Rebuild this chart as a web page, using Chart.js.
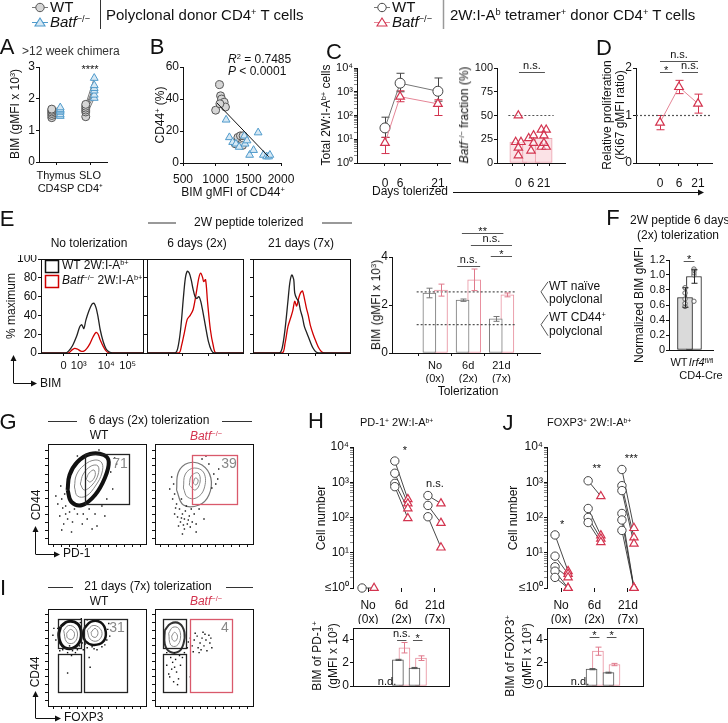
<!DOCTYPE html>
<html><head><meta charset="utf-8">
<script src="https://cdn.jsdelivr.net/npm/chart.js@4.4.1/dist/chart.umd.min.js"></script>
<style>
body{margin:0;width:728px;height:723px;position:relative;background:#fff;font-family:"Liberation Sans",Arial,sans-serif;color:#111;overflow:hidden}
canvas{position:absolute}
.t{position:absolute;white-space:nowrap}
sup{font-size:0.62em;position:relative;top:-0.5em;line-height:0;vertical-align:baseline}
</style></head><body>
<canvas id="deco" width="728" height="723" style="left:0;top:0"></canvas>
<script>
// ---------- data ----------
// A: BIM in polyclonal donor cells
const aThyWT = [1.40, 1.47, 1.53, 1.58, 1.63, 1.67];
const aThyKO = [1.45, 1.50, 1.58, 1.62, 1.66, 1.72];
const aSloWT = [1.43, 1.58, 1.64, 1.70, 1.76, 1.82];
const aSloKO = [2.02, 2.12, 2.25, 2.33, 2.42, 2.65];
const aCats = [['Thymus', 'CD4SP'], ['SLO', 'CD4⁺']];

// B: CD44+ vs BIM
const bWTx = [1000, 1060, 1075, 1090, 1110, 1130, 1150, 1065, 1300, 1340, 1380, 1420, 1410];
const bWTy = [33, 49, 42, 40, 37, 38, 35, 37, 12, 16, 17, 17, 11];
const bKOx = [1160, 1210, 1260, 1310, 1360, 1440, 1450, 1480, 1520, 1580, 1650, 1730, 1780, 1810, 1830];
const bKOy = [27, 16, 13, 12, 10, 17, 12, 14, 5, 8, 19, 5, 4, 4, 5];
const bFitX = [1020, 1810];
const bFitY = [37.5, 4];

// C: total 2W:I-Ab+ cells
const cDays = [0, 6, 21];
const cWT = [30, 2300, 1050];
const cWTlo = [12, 1000, 400];
const cWThi = [85, 6000, 3800];
const cKO = [7, 620, 310];
const cKOlo = [2.5, 380, 100];
const cKOhi = [12, 1100, 460];
// C: Batf-/- fraction
const fracMean = [22, 24, 26];
const frac0 = [50, 22, 22, 16, 8];
const frac0x = [1.0, 0.79, 1.21, 1.0, 1.0];
const frac6 = [26, 29, 21, 13];
const frac6x = [1.82, 2.2, 2.2, 2.0];
const frac21 = [35, 35, 29, 17, 17, 21];
const frac21x = [2.82, 3.2, 3.02, 2.82, 3.2, 3.02];

// D: relative proliferation
const dRatio = [0.85, 1.60, 1.25];
const dErr = [0.15, 0.14, 0.20];

// E: histograms (x = % of axis, y = % maximum)
const h1WT = [[0,0],[24,0],[27,2],[31,8],[35,18],[38,28],[40,30],[42,26],[44,35],[47,45],[50,52],[52,53],[54,48],[56,38],[58,25],[61,12],[64,4],[67,1],[70,0],[100,0]];
const h1KO = [[0,0],[27,0],[30,3],[33,5],[36,4],[39,2],[42,2],[45,5],[48,10],[51,17],[54,22],[56,20],[58,14],[61,7],[64,2],[67,0],[100,0]];
const h2WT = [[0,0],[29,0],[32,5],[35,25],[38,60],[40,80],[42,87],[44,85],[46,78],[48,68],[50,60],[52,58],[54,60],[56,55],[58,45],[61,28],[64,12],[67,3],[70,0],[100,0]];
const h2KO = [[0,0],[33,0],[36,8],[39,22],[42,36],[45,40],[48,46],[51,62],[54,80],[56,85],[58,80],[59,76],[61,78],[63,55],[66,25],[69,8],[72,0],[100,0]];
const h3WT = [[0,0],[27,0],[30,5],[33,25],[36,55],[38,75],[40,83],[42,78],[43,64],[45,58],[47,55],[49,45],[51,38],[53,28],[56,20],[59,12],[62,5],[65,1],[68,0],[100,0]];
const h3KO = [[0,0],[30,0],[33,10],[36,28],[39,38],[41,45],[43,55],[45,50],[47,58],[49,64],[51,66],[53,58],[55,48],[57,40],[59,30],[62,20],[65,12],[68,5],[71,1],[74,0],[100,0]];
const histAt = [22, 37, 64, 85];
const histLbl = ['0', '10³', '10⁴', '10⁵'];
// E: BIM bars
const tolLbl = [['No', '(0x)'], ['6d', '(2x)'], ['21d', '(7x)']];
const eWT = [2.50, 2.20, 1.42];
const eWTerr = [0.20, 0.05, 0.10];
const eKO = [2.62, 3.05, 2.42];
const eKOerr = [0.25, 0.45, 0.08];
const eNaive = 2.55;
const eCD44 = 1.18;

// F: normalized BIM
const fBars = [0.70, 0.98];
const fErr = [0.13, 0.09];
const fWTpts = [0.58, 0.62, 0.68, 0.76, 0.83];
const fIrfPts = [0.65, 1.00, 1.03, 1.06, 1.08];

// H: PD-1+ cell numbers and BIM
const hNoWT = [1], hNoKO = [1];
const h6WT = [4000, 1800, 930, 750], h6KO = [330, 250, 180, 95];
const h21WT = [420, 220, 105], h21KO = [250, 70, 14];
const hBimWT = [2.25, 1.55], hBimWTerr = [0.05, 0.05];
const hBimKO = [3.30, 2.40], hBimKOerr = [0.45, 0.20];
// J: FOXP3+ cell numbers and BIM
const jNoWT = [32, 8, 4, 3, 2], jNoKO = [3, 2.5, 2, 1, 1];
const j6WT = [1100, 180, 100, 72], j6KO = [400, 31, 25, 20];
const j21WT = [2300, 800, 580, 130, 85, 43], j21KO = [50, 27, 18, 1, 1, 1];
const jBimWT = [1.45, 1.15], jBimWTerr = [0.05, 0.04];
const jBimKO = [3.00, 1.85], jBimKOerr = [0.35, 0.10];

// G / I flow plots (x, y in % of axis)
const gWTout = [[20,54],[22,69],[30,82],[43,90],[57,89],[62,82],[58,66],[48,49],[35,39],[24,42],[20,54]];
const gWTr1 = [[27,57],[29,69],[37,79],[48,84],[55,81],[55,71],[49,59],[39,48],[30,48],[27,57]];
const gWTr2 = [[33,60],[36,70],[44,78],[51,78],[51,69],[45,59],[37,54],[33,60]];
const gWTr3 = [[39,65],[42,71],[47,74],[48,68],[43,62],[39,65]];
const gWTdots = [[15,36],[18,30],[12,28],[20,25],[16,20],[22,32],[10,40],[25,22],[30,30],[14,45],[35,20],[40,25],[45,15],[50,18],[8,48],[18,38],[27,35],[60,45],[66,55],[55,38],[64,72],[17,50],[13,58],[42,35],[36,30],[68,86],[70,80],[52,94],[30,88],[24,12],[14,14],[48,30],[58,28],[20,62],[25,75]];
const gKOout = [[22,54],[24,72],[34,81],[48,79],[57,66],[55,49],[45,39],[29,39],[22,54]];
const gKOr1 = [[29,56],[31,70],[40,76],[50,71],[50,55],[42,46],[33,47],[29,56]];
const gKOr2 = [[35,59],[37,68],[44,71],[46,62],[41,54],[35,59]];
const gKOr3 = [[39,61],[41,66],[44,64],[42,59],[39,61]];
const gKOdots = [[22,40],[25,35],[28,30],[30,25],[33,20],[26,22],[35,28],[38,22],[40,30],[20,30],[24,18],[30,15],[36,17],[42,20],[18,45],[45,35],[20,50],[27,45],[15,55],[60,70],[62,60],[48,85],[55,80],[65,75],[42,12],[28,10],[50,25],[23,27],[31,33],[27,26],[34,24],[29,19],[21,36],[37,35],[32,38],[19,60],[17,67],[58,56],[64,65],[52,88]];
const iWTlOut = [[13,82],[20,87],[30,85],[34,75],[31,64],[22,59],[14,63],[11,73],[13,82]];
const iWTlR1 = [[16,78],[21,83],[28,80],[30,72],[26,65],[19,66],[16,78]];
const iWTlR2 = [[19,75],[23,79],[27,75],[25,69],[20,70],[19,75]];
const iWTrOut = [[37,80],[44,87],[54,86],[59,76],[56,66],[46,63],[38,67],[36,74],[37,80]];
const iWTrR1 = [[40,78],[46,83],[53,80],[55,73],[50,67],[43,69],[40,78]];
const iWTrR2 = [[44,76],[48,80],[51,76],[49,71],[45,72],[44,76]];
const iWTdots = [[15,58],[20,55],[25,57],[28,60],[18,60],[32,62],[35,65],[8,68],[5,73],[33,86],[10,80],[36,58],[40,60],[45,61],[55,61],[60,68],[61,79],[40,89],[50,89],[63,72],[14,62],[22,62],[38,64],[50,58],[42,50],[28,55],[20,34],[43,40],[62,85],[34,90],[12,57],[30,58],[47,59],[58,63],[6,80],[24,52]];
const iKOout = [[10,78],[16,85],[25,85],[30,76],[29,64],[24,56],[15,56],[10,64],[10,78]];
const iKOr1 = [[14,75],[18,81],[24,80],[26,70],[22,62],[16,63],[14,75]];
const iKOr2 = [[17,72],[20,76],[23,72],[21,67],[18,68],[17,72]];
const iKOdots = [[40,68],[43,72],[46,65],[48,70],[50,62],[52,68],[55,73],[44,60],[38,62],[47,58],[53,57],[56,65],[36,70],[41,75],[49,76],[58,60],[34,66],[45,55],[39,56],[51,74],[57,70],[16,50],[18,45],[20,40],[22,35],[15,30],[19,25],[24,28],[17,38],[21,48],[12,42],[26,42],[14,33],[23,22],[28,50],[30,55],[33,60],[12,55],[20,55],[25,52],[36,30]];
const gWTgate = [38, 40, 82.5, 90], gKOgate = [37.5, 40, 83.3, 89];
const iGateL1 = [10.3, 59.8, 34, 89.7], iGateL2 = [10.3, 14.4, 34, 53.6], iGateR = [37.1, 14.4, 80.4, 89.7];
const iKOgL1 = [8.3, 59.8, 31.3, 89.7], iKOgL2 = [8.3, 14.4, 31.3, 53.6], iKOgR = [35.4, 14.4, 78.1, 89.7];

// ---------- helpers ----------
const FF = '"Liberation Sans", Arial, sans-serif';
Chart.defaults.font.family = FF;
Chart.defaults.font.size = 11;
Chart.defaults.color = '#111';
const RED = '#d3344f', REDL = '#e58596', BLUE = '#4f9acb', GR = '#444';
const LOGV = [1, 10, 100, 1000, 10000];
const minorLog = [];
for (let d = 1; d < 10000; d *= 10) for (let k = 1; k < 10; k++) minorLog.push(d * k);
minorLog.push(10000);
const sup = {1: '10⁰', 10: '10¹', 100: '10²', 1000: '10³', 10000: '10⁴'};

function drawErr(ch, after) {
  const ctx = ch.ctx, X = ch.scales.x, Y = ch.scales.y;
  ch.data.datasets.forEach(ds => {
    if (!ds.err || (ds.type === 'bar') !== after) return;
    ctx.save();
    ctx.strokeStyle = ds.errColor || ds.borderColor;
    ctx.lineWidth = 1;
    ds.data.forEach((p, j) => {
      const e = ds.err[j];
      const lo = Array.isArray(e) ? e[0] : p.y - e, hi = Array.isArray(e) ? e[1] : p.y + e;
      const px = Math.round(X.getPixelForValue(p.x)) + 0.5;
      const y0 = Y.getPixelForValue(lo), y1 = Y.getPixelForValue(hi), w = ds.capW || 3;
      ctx.beginPath();
      ctx.moveTo(px, y0); ctx.lineTo(px, y1);
      ctx.moveTo(px - w, y0); ctx.lineTo(px + w, y0);
      ctx.moveTo(px - w, y1); ctx.lineTo(px + w, y1);
      ctx.stroke();
    });
    ctx.restore();
  });
}

Chart.register({
  id: 'extras',
  beforeDatasetsDraw(ch) { drawErr(ch, false); },
  afterDatasetsDraw(ch) {
    drawErr(ch, true);
    const ex = ch.canvas._x || {}, ctx = ch.ctx, X = ch.scales.x, Y = ch.scales.y, ca = ch.chartArea;
    ctx.save();
    (ex.rects || []).forEach(r => {
      const x0 = Math.round(X.getPixelForValue(r[0])), y0 = Math.round(Y.getPixelForValue(r[1]));
      const x1 = Math.round(X.getPixelForValue(r[2])), y1 = Math.round(Y.getPixelForValue(r[3]));
      ctx.strokeStyle = r[4] || '#222'; ctx.lineWidth = 1.3;
      ctx.strokeRect(x0 + 0.5, y1 + 0.5, x1 - x0, y0 - y1);
    });
    if (ex.frame) {
      ctx.strokeStyle = '#111'; ctx.lineWidth = 1;
      ctx.strokeRect(Math.round(ca.left) + 0.5, Math.round(ca.top) + 0.5, Math.round(ca.right - ca.left), Math.round(ca.bottom - ca.top));
    }
    (ex.sig || []).forEach(([a, b, v, txt]) => {
      const y = Math.round(Y.getPixelForValue(v)) + 0.5;
      ctx.fillStyle = '#111'; ctx.strokeStyle = '#555'; ctx.lineWidth = 1;
      ctx.font = '11px ' + FF; ctx.textAlign = 'center';
      if (a === b) { ctx.textBaseline = 'middle'; ctx.fillText(txt, X.getPixelForValue(a), y); return; }
      const x0 = X.getPixelForValue(a), x1 = X.getPixelForValue(b);
      ctx.beginPath(); ctx.moveTo(x0, y); ctx.lineTo(x1, y); ctx.stroke();
      ctx.textBaseline = 'bottom';
      ctx.fillText(txt, (x0 + x1) / 2, txt[0] === '*' ? y + 4 : y - 1);
    });
    if (ex.draw) ex.draw(ctx, ch);
    ctx.restore();
  }
});

function ax(o) {
  const at = o.at || [o.min];
  return {
    type: o.type || 'linear', min: o.min, max: o.max,
    border: {display: o.line !== false, color: '#111', width: 1},
    grid: {display: true, drawOnChartArea: false, drawTicks: o.tl !== 0, tickLength: o.tl || 3, color: '#111', tickWidth: o.tw || 1},
    ticks: {display: !!(o.lbl || o.cb), autoSkip: false, maxRotation: 0, minRotation: 0,
      padding: o.pad == null ? 2 : o.pad, font: {size: o.fs || 11, family: FF}, color: '#111',
      callback: o.cb || ((v, i) => (o.lbl ? o.lbl[i] : ''))},
    afterBuildTicks: s => { s.ticks = at.map(v => ({value: v})); }
  };
}

function mk(r, p, datasets, x, y, ex) {
  const [L, Tp, R, B] = p;
  const c = document.createElement('canvas');
  c.width = r[2] - r[0] + L + R; c.height = r[3] - r[1] + Tp + B;
  c.style.left = (r[0] - L) + 'px'; c.style.top = (r[1] - Tp) + 'px';
  c._x = ex || {};
  document.body.appendChild(c);
  x.afterFit = s => { s.height = B; s.paddingLeft = 0; s.paddingRight = 0; };
  y.afterFit = s => { s.width = L; s.paddingTop = 0; s.paddingBottom = 0; };
  datasets.forEach(d => { if (d.clip === undefined) d.clip = false; });
  return new Chart(c, {type: 'scatter', data: {datasets}, options: {
    responsive: false, animation: false, events: [],
    layout: {autoPadding: false, padding: {left: 0, top: Tp, right: R, bottom: 0}},
    plugins: {legend: {display: false}, tooltip: {enabled: false}},
    scales: {x, y}}});
}

const xy = (xs, ys) => xs.map((x, i) => ({x, y: ys[i]}));
const stWTa = {pointStyle: 'circle', pointRadius: 4, backgroundColor: '#d6d6d6', borderColor: '#555', pointBorderWidth: 1};
const stKOa = {pointStyle: 'triangle', pointRadius: 4.5, backgroundColor: '#d6e8f4', borderColor: BLUE, pointBorderWidth: 1};
const stWT = {pointStyle: 'circle', pointRadius: 4.2, backgroundColor: '#fff', borderColor: GR, pointBorderWidth: 1};
const stKO = {pointStyle: 'triangle', pointRadius: 4.8, backgroundColor: '#fff', borderColor: RED, pointBorderWidth: 1.2};

function paired(groups, sa, sb, lineCol) {
  const ds = [], wt = [], ko = [];
  groups.forEach(([xa, xb, A, Bv]) => {
    A.forEach((v, i) => {
      wt.push({x: xa, y: v}); ko.push({x: xb, y: Bv[i]});
      ds.push({type: 'line', data: [{x: xa, y: v}, {x: xb, y: Bv[i]}], borderColor: lineCol, borderWidth: 0.9, pointRadius: 0, order: 5});
    });
  });
  ds.push(Object.assign({type: 'scatter', data: wt, order: 1}, sa));
  ds.push(Object.assign({type: 'scatter', data: ko, order: 0}, sb));
  return ds;
}
const hline = (x0, x1, v, col) => ({type: 'line', data: [{x: x0, y: v}, {x: x1, y: v}], borderColor: col || '#555', borderWidth: 1.2, borderDash: [2, 2], pointRadius: 0, order: 8});
const bar = (pts, border, bg, w, err) => ({type: 'bar', data: pts, borderColor: border, backgroundColor: bg, borderWidth: 1, barThickness: w, grouped: false, borderSkipped: false, err, capW: 3, order: 10});

// ---------- A ----------
mk([39, 67, 107, 162], [24, 8, 4, 36],
  paired([[0.75, 1.25, aThyWT, aThyKO], [2.75, 3.25, aSloWT, aSloKO]], stWTa, stKOa, '#666'),
  ax({min: 0, max: 4, at: [1, 3], lbl: aCats, pad: 4, fs: 11}),
  ax({min: 0, max: 3, at: [0, 1, 2, 3], lbl: ['0', '1', '2', '3'], pad: 1, fs: 12}),
  {sig: [[3, 3, 2.94, '****']]});

// ---------- B ----------
mk([183, 67, 281, 163], [26, 10, 14, 26], [
  Object.assign({type: 'scatter', data: xy(bKOx, bKOy), order: 1}, stKOa),
  Object.assign({type: 'scatter', data: xy(bWTx, bWTy), order: 2}, stWTa),
  {type: 'line', data: xy(bFitX, bFitY), borderColor: '#111', borderWidth: 1, pointRadius: 0, order: 0}],
  ax({min: 500, max: 2000, at: [500, 1000, 1500, 2000], lbl: ['500', '1000', '1500', '2000'], pad: 6, fs: 12}),
  ax({min: 0, max: 60, at: [0, 20, 40, 60], lbl: ['0', '20', '40', '60'], pad: 1, fs: 12}));

// ---------- C left ----------
mk([357, 68, 450, 163], [30, 10, 6, 26], [
  Object.assign({type: 'line', data: xy(cDays, cWT), borderColor: '#777', borderWidth: 1, pointStyle: 'circle', pointRadius: 5,
    pointBorderColor: GR, pointBackgroundColor: '#fff', pointBorderWidth: 1, err: cWTlo.map((v, i) => [v, cWThi[i]]), errColor: GR, capW: 4, order: 1}),
  Object.assign({type: 'line', data: xy(cDays, cKO), borderColor: REDL, borderWidth: 1, pointStyle: 'triangle', pointRadius: 5,
    pointBorderColor: RED, pointBackgroundColor: '#fff', pointBorderWidth: 1.2, err: cKOlo.map((v, i) => [v, cKOhi[i]]), errColor: RED, capW: 4, order: 0})],
  ax({min: -11.1, max: 25.8, at: cDays, lbl: ['0', '6', '21'], pad: 10, fs: 12}),
  ax({type: 'logarithmic', min: 1, max: 10000, at: minorLog, cb: v => sup[v] || '', pad: 1, fs: 11,
    tw: c => (c.tick && LOGV.includes(c.tick.value)) ? 1 : 0.5}));

// ---------- C right ----------
mk([497, 68, 565, 163], [26, 16, 4, 26], [
  Object.assign({type: 'scatter', data: xy(frac0x.concat(frac6x, frac21x), frac0.concat(frac6, frac21)), order: 0}, stKO, {backgroundColor: 'rgba(255,255,255,0.5)'}),
  bar(xy([1, 2, 3], fracMean), '#eba0ad', '#fbe2e6', 17),
  hline(0.21, 3.79, 50)],
  ax({min: 0.21, max: 3.79, at: [1, 2, 3], lbl: ['0', '6', '21'], pad: 10, fs: 12}),
  ax({min: 0, max: 100, at: [0, 25, 50, 75, 100], lbl: ['0', '25', '50', '75', '100'], pad: 1, fs: 11}),
  {sig: [[1.05, 3.1, 96, 'n.s.']]});

// ---------- D ----------
mk([636, 68, 712, 163], [18, 22, 8, 26], [
  {type: 'line', data: xy([1, 2, 3], dRatio), borderColor: REDL, borderWidth: 1, pointStyle: 'triangle', pointRadius: 5,
    pointBorderColor: RED, pointBackgroundColor: '#fff', pointBorderWidth: 1.2, err: dErr, errColor: RED, capW: 4, order: 0},
  hline(-0.263, 3.737, 1)],
  ax({min: -0.263, max: 3.737, at: [1, 2, 3], lbl: ['0', '6', '21'], pad: 10, fs: 12}),
  ax({min: 0, max: 2, at: [0, 1, 2], lbl: ['0', '1', '2'], pad: 1, fs: 12}),
  {sig: [[1, 3, 2.15, 'n.s.'], [1, 1.65, 1.92, '*'], [2.15, 3, 1.92, 'n.s.']]});

// ---------- E histograms ----------
function hist(r, L, wt, ko, first) {
  const pts = a => a.map(([x, y]) => ({x, y}));
  mk(r, [L, 4, 3, 18], [
    {type: 'line', data: pts(ko), borderColor: '#d00000', borderWidth: 1.3, pointRadius: 0, tension: 0.3, order: 1},
    {type: 'line', data: pts(wt), borderColor: '#222', borderWidth: 1.3, pointRadius: 0, tension: 0.3, order: 0}],
    ax({min: 0, max: 100, at: histAt, lbl: first ? histLbl : null, pad: 3, fs: 11}),
    ax({min: 0, max: 100, at: [0, 20, 40, 60, 80, 100], lbl: first ? ['0', '20', '40', '60', '80', '100'] : null, pad: 1, fs: 12}),
    {frame: true});
}
hist([41, 259, 143, 353], 26, h1WT, h1KO, true);
hist([147, 259, 243, 353], 4, h2WT, h2KO, false);
hist([253, 259, 350, 353], 4, h3WT, h3KO, false);

// ---------- E bars ----------
mk([392, 257, 540, 353], [16, 36, 10, 30], [
  bar(xy([0.83, 1.83, 2.83], eWT), '#777', '#fff', 13, eWTerr),
  Object.assign(bar(xy([1.18, 2.18, 3.18], eKO), '#e8909f', '#fff', 13, eKOerr), {errColor: '#e07a8c'}),
  hline(0.447, 3.42, eNaive), hline(0.447, 3.42, eCD44)],
  ax({min: 0.447, max: 3.42, at: [1, 2, 3], lbl: tolLbl, pad: 3, fs: 11}),
  ax({min: 0, max: 4, at: [0, 2, 4], lbl: ['0', '2', '4'], pad: 1, fs: 12}),
  {sig: [[1.81, 3.06, 5.0, '**'], [2.08, 3.32, 4.5, 'n.s.'], [2.68, 3.32, 4.04, '*'], [1.67, 2.36, 3.62, 'n.s.']],
   draw: (ctx, ch) => {
     const xr = ch.chartArea.right;
     ctx.strokeStyle = '#555'; ctx.lineWidth = 1;
     [eNaive, eCD44].forEach(v => {
       const y = ch.scales.y.getPixelForValue(v);
       ctx.beginPath(); ctx.moveTo(xr + 8, y - 10); ctx.lineTo(xr + 1, y); ctx.lineTo(xr + 8, y + 11); ctx.stroke();
     });
   }});

// ---------- F ----------
mk([669, 260, 713, 350], [28, 12, 6, 4], [
  {type: 'scatter', data: xy([1, 1, 1, 1, 1], fWTpts).concat(xy([2, 2, 2, 2, 2], fIrfPts)), pointStyle: 'circle', pointRadius: 2.2,
    backgroundColor: 'rgba(255,255,255,0.6)', borderColor: '#666', pointBorderWidth: 1, order: 0},
  Object.assign(bar([{x: 1, y: fBars[0]}], '#222', '#dadada', 15, [fErr[0]]), {errColor: '#222'}),
  Object.assign(bar([{x: 2, y: fBars[1]}], '#222', '#fff', 15, [fErr[1]]), {errColor: '#222'})],
  ax({min: 0.44, max: 2.9, tl: 0}),
  ax({min: 0, max: 1.2, at: [0, 0.2, 0.4, 0.6, 0.8, 1.0, 1.2], lbl: ['0', '0.2', '0.4', '0.6', '0.8', '1.0', '1.2'], pad: 1, fs: 11}),
  {sig: [[0.85, 2.05, 1.19, '*']]});

// ---------- G / I flow ----------
const flowTicks = [6, 14, 22, 30, 38, 46, 54, 62, 70, 78, 86, 94];
function flow(r, blobs, dots, gates) {
  const ds = [{type: 'scatter', data: dots.map(([x, y]) => ({x, y})), pointStyle: 'rect', pointRadius: 1,
    backgroundColor: '#111', borderColor: '#111', pointBorderWidth: 0, order: 0}];
  blobs.forEach(([poly, col, w]) => ds.push({type: 'line', data: poly.map(([x, y]) => ({x, y})), borderColor: col, borderWidth: w, pointRadius: 0, tension: 0.4, order: 2}));
  mk(r, [4, 2, 2, 4], ds, ax({min: 0, max: 100, at: flowTicks, tl: 3}), ax({min: 0, max: 100, at: flowTicks, tl: 3}), {frame: true, rects: gates});
}
flow([48, 444, 146, 544], [[gWTout, '#111', 4], [gWTr1, '#888', 1], [gWTr2, '#888', 1], [gWTr3, '#888', 1]], gWTdots, [gWTgate.concat('#222')]);
flow([155, 444, 253, 544], [[gKOout, '#777', 1.2], [gKOr1, '#888', 1], [gKOr2, '#888', 1], [gKOr3, '#888', 1]], gKOdots, [gKOgate.concat('#d9596b')]);
flow([48, 609, 146, 706], [[iWTlOut, '#111', 3], [iWTlR1, '#888', 1], [iWTlR2, '#888', 1], [iWTrOut, '#111', 2.5], [iWTrR1, '#888', 1], [iWTrR2, '#888', 1]], iWTdots,
  [iGateL1.concat('#222'), iGateL2.concat('#222'), iGateR.concat('#222')]);
flow([155, 609, 253, 706], [[iKOout, '#333', 2], [iKOr1, '#888', 1], [iKOr2, '#888', 1]], iKOdots,
  [iKOgL1.concat('#222'), iKOgL2.concat('#222'), iKOgR.concat('#d9596b')]);

// ---------- H / J ----------
const logAx = () => ax({type: 'logarithmic', min: 1, max: 10000, at: minorLog, cb: v => (v === 1 ? '≤10⁰' : sup[v] || ''), pad: 1, fs: 12,
  tw: c => (c.tick && LOGV.includes(c.tick.value)) ? 1 : 0.5});
mk([353, 447, 455, 588], [36, 10, 4, 36],
  paired([[0.82, 1.18, hNoWT, hNoKO], [1.8, 2.19, h6WT, h6KO], [2.79, 3.18, h21WT, h21KO]], stWT, stKO, '#333'),
  ax({min: 0.55, max: 3.6, at: [1, 2, 3], lbl: tolLbl, pad: 6, fs: 12, line: false, tl: 4}),
  logAx(), {sig: [[2.1, 2.1, 8200, '*'], [3.0, 3.0, 940, 'n.s.']]});
mk([353, 628, 449, 686], [16, 4, 4, 4], [
  bar(xy([1.8, 2.79], hBimWT), '#555', '#fff', 11, hBimWTerr),
  Object.assign(bar(xy([2.19, 3.18], hBimKO), '#e8909f', '#fff', 11, hBimKOerr), {errColor: '#e07a8c'})],
  ax({min: 0.55, max: 3.42, tl: 0}),
  ax({min: 0, max: 5, at: [0, 2, 4], lbl: ['0', '2', '4'], pad: 1, fs: 12}),
  {frame: true, sig: [[1.15, 1.15, 0.45, 'n.d.'], [1.75, 2.31, 4.0, 'n.s.'], [2.7, 3.27, 4.0, '*']]});

mk([547, 447, 648, 588], [36, 10, 4, 36],
  paired([[0.82, 1.21, jNoWT, jNoKO], [1.81, 2.19, j6WT, j6KO], [2.82, 3.18, j21WT, j21KO]], stWT, stKO, '#333'),
  ax({min: 0.58, max: 3.6, at: [1, 2, 3], lbl: tolLbl, pad: 6, fs: 12, line: false, tl: 4}),
  logAx(), {sig: [[1.03, 1.03, 67, '*'], [2.07, 2.07, 2500, '**'], [3.1, 3.1, 4800, '***']]});
mk([547, 628, 643, 686], [16, 4, 4, 4], [
  bar(xy([1.81, 2.82], jBimWT), '#555', '#fff', 11, jBimWTerr),
  Object.assign(bar(xy([2.19, 3.18], jBimKO), '#e8909f', '#fff', 11, jBimKOerr), {errColor: '#e07a8c'})],
  ax({min: 0.58, max: 3.45, tl: 0}),
  ax({min: 0, max: 5, at: [0, 2, 4], lbl: ['0', '2', '4'], pad: 1, fs: 12}),
  {frame: true, sig: [[1.12, 1.12, 0.45, 'n.d.'], [1.69, 2.28, 4.2, '*'], [2.72, 3.3, 4.2, '*']]});

// ---------- decorations ----------
const dc = document.getElementById('deco').getContext('2d');
function ln(x0, y0, x1, y1, col, w) { dc.strokeStyle = col; dc.lineWidth = w || 1; dc.beginPath(); dc.moveTo(x0, y0); dc.lineTo(x1, y1); dc.stroke(); }
function head(x, y, dir) {
  dc.fillStyle = '#111'; dc.beginPath();
  if (dir === 'r') { dc.moveTo(x, y); dc.lineTo(x - 6, y - 3); dc.lineTo(x - 6, y + 3); }
  else { dc.moveTo(x, y); dc.lineTo(x - 3, y + 6); dc.lineTo(x + 3, y + 6); }
  dc.closePath(); dc.fill();
}
function circ(x, y, col, fill) { dc.beginPath(); dc.arc(x, y, 4.2, 0, 7); dc.fillStyle = fill; dc.fill(); dc.strokeStyle = col; dc.lineWidth = 1; dc.stroke(); }
function tri(x, y, col, fill) { dc.beginPath(); dc.moveTo(x, y - 4.5); dc.lineTo(x + 5, y + 3.5); dc.lineTo(x - 5, y + 3.5); dc.closePath(); dc.fillStyle = fill; dc.fill(); dc.strokeStyle = col; dc.lineWidth = 1.1; dc.stroke(); }
ln(32, 7.5, 48, 7.5, '#777'); circ(40, 7.5, '#555', '#d6d6d6');
ln(32, 22.5, 48, 22.5, BLUE); tri(40, 22.5, BLUE, '#d6e8f4');
ln(100.5, 0, 100.5, 29, '#333');
ln(374, 7.5, 390, 7.5, '#777'); circ(382, 7.5, GR, '#fff');
ln(374, 22.5, 390, 22.5, REDL); tri(382, 22.5, RED, '#fff');
ln(443.5, 0, 443.5, 29, '#999', 1.5);
ln(453, 192.5, 700, 192.5, '#111'); head(704, 192.5, 'r');
ln(148, 223, 176, 223, '#999', 2); ln(322, 223, 352, 223, '#999', 2);
ln(13.5, 383, 13.5, 360, '#111'); head(13.5, 355, 'u'); ln(13.5, 383.5, 33, 383.5, '#111'); head(37, 383.5, 'r');
ln(48, 421.5, 77, 421.5, '#333'); ln(222, 421.5, 252, 421.5, '#333');
ln(35.5, 554, 35.5, 531, '#111'); head(35.5, 526, 'u'); ln(35.5, 554.5, 56, 554.5, '#111'); head(60, 554.5, 'r');
ln(48, 587.5, 73, 587.5, '#333'); ln(226, 587.5, 253, 587.5, '#333');
ln(35.5, 718, 35.5, 696, '#111'); head(35.5, 691, 'u'); ln(35.5, 718.5, 57, 718.5, '#111'); head(61, 718.5, 'r');
dc.lineWidth = 1.5; dc.strokeStyle = '#111'; dc.strokeRect(45.5, 260.5, 13, 12);
dc.strokeStyle = '#d00000'; dc.strokeRect(45.5, 275.5, 13, 12);

// ---------- text ----------
function T(x, y, h, o) {
  o = o || {};
  const d = document.createElement('div');
  d.className = 't';
  d.innerHTML = h;
  const tx = o.a === 'l' ? '0' : o.a === 'r' ? '-100%' : '-50%';
  d.style.cssText = 'left:' + x + 'px;top:' + y + 'px;font-size:' + (o.s || 12) + 'px;color:' + (o.c || '#111') +
    ';line-height:1.15;text-align:center;transform:translate(' + tx + ',-50%)' + (o.r ? ' rotate(-90deg)' : '');
  document.body.appendChild(d);
}
const BATF = '<i>Batf</i><sup>−/−</sup>';
T(50, 7, 'WT', {s: 15, a: 'l'});
T(50, 22, BATF, {s: 15, a: 'l'});
T(106, 15, 'Polyclonal donor CD4<sup>+</sup> T cells', {s: 15, a: 'l'});
T(392, 7, 'WT', {s: 15, a: 'l'});
T(392, 22, BATF, {s: 15, a: 'l'});
T(450, 15, '2W:I-A<sup>b</sup> tetramer<sup>+</sup> donor CD4<sup>+</sup> T cells', {s: 15, a: 'l'});
[['A', 7, 47], ['B', 157, 47], ['C', 334, 52], ['D', 604, 48], ['E', 7, 219], ['F', 613, 218], ['G', 8, 422], ['H', 316, 421], ['I', 3, 588], ['J', 508, 423]]
  .forEach(([l, x, y]) => T(x, y, l, {s: 22}));
// A, B
T(22, 52, '&gt;12 week chimera', {a: 'l', c: '#333'});
T(16, 114, 'BIM (gMFI x 10<sup>3</sup>)', {r: 1});
T(161, 115, 'CD44<sup>+</sup> (%)', {r: 1});
T(233, 193, 'BIM gMFI of CD44<sup>+</sup>');
T(228, 60, '<i>R</i><sup>2</sup> = 0.7485', {a: 'l'});
T(228, 72, '<i>P</i> &lt; 0.0001', {a: 'l'});
// C, D
T(327, 115, 'Total 2W:I-A<sup>b+</sup> cells', {r: 1});
T(465, 115, BATF + ' fraction (%)', {r: 1});
T(372, 192, 'Days tolerized', {a: 'l'});
T(608, 115, 'Relative proliferation', {r: 1});
T(621, 115, '(Ki67 gMFI ratio)', {r: 1});
// E
T(194, 223, '2W peptide tolerized', {a: 'l'});
T(89, 244, 'No tolerization');
T(197, 244, '6 days (2x)');
T(301, 244, '21 days (7x)');
T(12, 306, '% maximum', {r: 1});
T(40, 384, 'BIM', {a: 'l'});
T(62, 266, 'WT 2W:I-A<sup>b+</sup>', {a: 'l'});
T(62, 281, BATF + ' 2W:I-A<sup>b+</sup>', {a: 'l'});
T(377, 305, 'BIM (gMFI x 10<sup>3</sup>)', {r: 1});
T(468, 392, 'Tolerization');
T(549, 287, 'WT naïve', {a: 'l'});
T(549, 300, 'polyclonal', {a: 'l'});
T(549, 318, 'WT CD44<sup>+</sup>', {a: 'l'});
T(549, 332, 'polyclonal', {a: 'l'});
// F
T(630, 221, '2W peptide 6 days', {a: 'l'});
T(678, 236, '(2x) tolerization');
T(640, 305, 'Normalized BIM gMFI', {r: 1});
T(679, 362, 'WT', {s: 11});
T(701, 362, '<i>Irf4</i><sup>fl/fl</sup>', {s: 11});
T(701, 375, 'CD4-Cre', {s: 11});
// G, I
T(149, 421, '6 days (2x) tolerization');
T(99, 436, 'WT');
T(206, 437, BATF, {c: RED});
T(37, 505, 'CD44', {r: 1});
T(63, 554, 'PD-1', {a: 'l'});
T(120, 463, '71', {s: 14, c: '#888'});
T(229, 463, '39', {s: 14, c: '#888'});
T(148, 587, '21 days (7x) tolerization');
T(99, 602, 'WT');
T(206, 602, BATF, {c: RED});
T(36, 672, 'CD44', {r: 1});
T(64, 718, 'FOXP3', {a: 'l'});
T(117, 627, '31', {s: 14, c: '#888'});
T(225, 627, '4', {s: 14, c: '#888'});
// H, J
T(360, 422, 'PD-1<sup>+</sup> 2W:I-A<sup>b+</sup>', {a: 'l', s: 11});
T(322, 518, 'Cell number', {r: 1});
T(318, 656, 'BIM of PD-1<sup>+</sup>', {r: 1});
T(334, 656, '(gMFI x 10<sup>3</sup>)', {r: 1});
T(547, 422, 'FOXP3<sup>+</sup> 2W:I-A<sup>b+</sup>', {a: 'l', s: 11});
T(514, 518, 'Cell number', {r: 1});
T(511, 656, 'BIM of FOXP3<sup>+</sup>', {r: 1});
T(528, 656, '(gMFI x 10<sup>3</sup>)', {r: 1});
</script>
</body></html>
